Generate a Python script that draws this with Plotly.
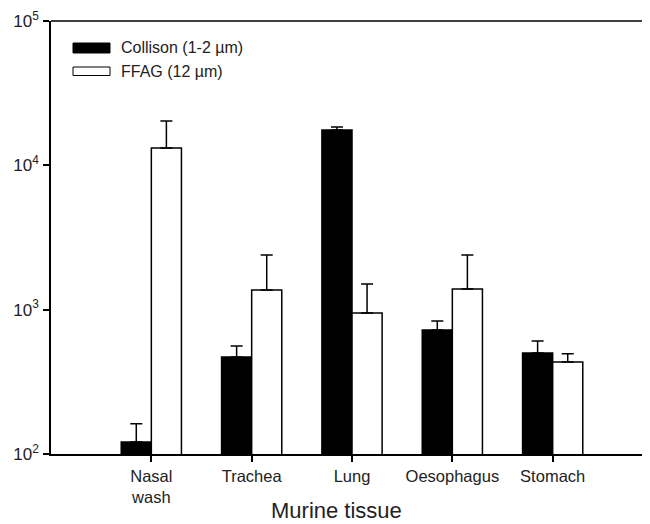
import plotly.graph_objects as go

categories = ["Nasal<br>wash", "Trachea", "Lung", "Oesophagus", "Stomach"]
collison = [121, 470, 17600, 723, 501]
collison_err = [41, 90, 850, 110, 105]
ffag = [13200, 1370, 948, 1390, 434]
ffag_err = [7100, 1020, 560, 1000, 60]
series_names = ["Collison (1-2 \u00b5m)", "FFAG (12 \u00b5m)"]
ytick_vals = [100, 1000, 10000, 100000]
ytick_text = ["10<sup>2</sup>", "10<sup>3</sup>", "10<sup>4</sup>", "10<sup>5</sup>"]

FONT = "Liberation Sans, Arial, sans-serif"
TXT = "#222"

fig = go.Figure()
fig.add_trace(go.Bar(
    x=categories, y=collison, name=series_names[0],
    marker=dict(color="black", line=dict(color="black", width=1.5)),
    error_y=dict(type="data", array=collison_err, arrayminus=[0]*5, symmetric=False,
                 color="black", thickness=1.5, width=6),
    showlegend=False,
))
fig.add_trace(go.Bar(
    x=categories, y=ffag, name=series_names[1],
    marker=dict(color="white", line=dict(color="black", width=1.5)),
    error_y=dict(type="data", array=ffag_err, arrayminus=[0]*5, symmetric=False,
                 color="black", thickness=1.5, width=6),
    showlegend=False,
))

# page has an 8px body margin; figure is sized so it fits the 650x524 window
OFF = 8
W, H = 650 - OFF, 524 - OFF
PL, PT, PB, PR = 51, 21, 454, 650  # plot area in page pixels
L, T = PL - OFF, PT - OFF
B = H - (PB - OFF)
R = W - (PR - OFF)
pw, ph = PR - PL, PB - PT

def px(x):
    return (x - PL) / pw

def py(y):
    return 1 - (y - PT) / ph

shapes = [
    dict(type="line", xref="paper", yref="paper", x0=0, x1=1, y0=1, y1=1,
         line=dict(color="black", width=1.5)),
    dict(type="rect", xref="paper", yref="paper", x0=px(73), x1=px(110), y0=py(53), y1=py(43),
         fillcolor="black", line=dict(color="black", width=1)),
    dict(type="rect", xref="paper", yref="paper", x0=px(73), x1=px(110), y0=py(75.5), y1=py(67),
         fillcolor="white", line=dict(color="black", width=1)),
]
annotations = [
    dict(text=series_names[0], xref="paper", yref="paper", x=px(119), y=py(47.5),
         xanchor="left", yanchor="middle", showarrow=False, font=dict(family=FONT, size=16, color=TXT)),
    dict(text=series_names[1], xref="paper", yref="paper", x=px(119), y=py(71),
         xanchor="left", yanchor="middle", showarrow=False, font=dict(family=FONT, size=16, color=TXT)),
    dict(text="Murine tissue", xref="paper", yref="paper", x=px(336), y=py(510),
         xanchor="center", yanchor="middle", showarrow=False, font=dict(family=FONT, size=22, color=TXT)),
]

fig.update_layout(
    width=W, height=H,
    margin=dict(l=L, r=R, t=T, b=B, pad=0),
    paper_bgcolor="white", plot_bgcolor="white",
    barmode="group", bargap=0.4, bargroupgap=0,
    font=dict(family=FONT, size=16, color=TXT),
    shapes=shapes, annotations=annotations,
    showlegend=False,
)
fig.update_xaxes(
    type="category", range=[-1, 4.97],
    showline=True, linecolor="black", linewidth=1.5,
    ticks="outside", ticklen=6, tickwidth=1.5, tickcolor="black",
    showgrid=False, zeroline=False,
    tickfont=dict(family=FONT, size=16.5, color=TXT),
)
fig.update_yaxes(
    type="log", range=[2, 5],
    tickvals=ytick_vals, ticktext=ytick_text,
    showline=True, linecolor="black", linewidth=1.5,
    ticks="outside", ticklen=6, tickwidth=1.5, tickcolor="black",
    ticklabelstandoff=1,
    showgrid=False, zeroline=False,
    tickfont=dict(family=FONT, size=17, color=TXT),
)

fig.write_html("out.html")
